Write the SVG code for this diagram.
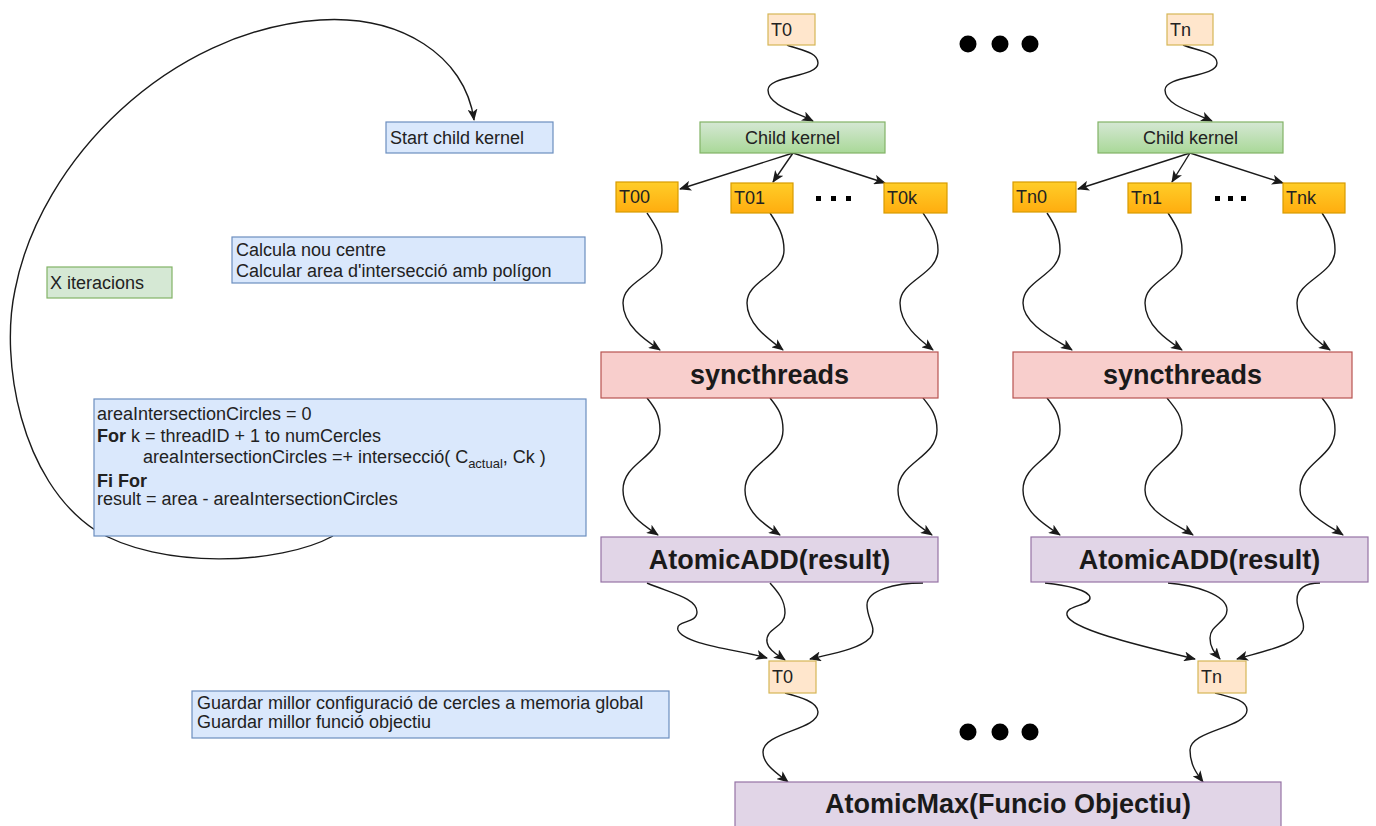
<svg xmlns="http://www.w3.org/2000/svg" width="1376" height="826" viewBox="0 0 1376 826">
  <style>
    .lbl { font-family: "Liberation Sans", Arial, sans-serif; font-size: 18px; fill: #222; }
    .big { font-family: "Liberation Sans", Arial, sans-serif; font-size: 27px; font-weight: bold; fill: #1a1a1a; text-anchor: middle; }
    .note { fill: #dae8fc; stroke: #6c8ebf; stroke-width: 1.2; }
    .green { fill: #d5e8d4; stroke: #82b366; stroke-width: 1.2; }
    .kernel { fill: url(#gGreen); stroke: #82b366; stroke-width: 1.2; }
    .thr { fill: url(#gOrange); stroke: #d79b00; stroke-width: 1.2; }
    .root { fill: #ffe6cc; stroke: #d6b656; stroke-width: 1.2; }
    .sync { fill: #f8cecc; stroke: #b85450; stroke-width: 1.2; }
    .atom { fill: #e1d5e7; stroke: #9673a6; stroke-width: 1.2; }
    .edge { fill: none; stroke: #1a1a1a; stroke-width: 1.4; marker-end: url(#arrow); }
    .dot { fill: #000; }
  </style>
  <defs>
    <linearGradient id="gGreen" x1="0" y1="0" x2="0" y2="1">
      <stop offset="0" stop-color="#d5e8d4"/>
      <stop offset="1" stop-color="#a9d898"/>
    </linearGradient>
    <linearGradient id="gOrange" x1="0" y1="0" x2="0" y2="1">
      <stop offset="0" stop-color="#ffcd28"/>
      <stop offset="1" stop-color="#ffad0f"/>
    </linearGradient>
    <marker id="arrow" viewBox="0 0 12 10" refX="11" refY="5" markerWidth="12" markerHeight="10" markerUnits="userSpaceOnUse" orient="auto">
      <path d="M0,0 L12,5 L0,10 L3,5 z" fill="#1a1a1a"/>
    </marker>
  </defs>

  <rect width="1376" height="826" fill="#ffffff"/>

  <!-- connectors -->
  <g id="connectors">
    <!-- iteration loop back to the child kernel launch -->
    <path class="edge" d="M333,536 C280,565 160,570 95,530 C20,480 0,360 15,290 C40,160 170,30 320,20 C400,15 465,55 474,120"/>

    <!-- parent threads to child kernels -->
    <path class="edge" d="M787,45 C800,50 818,52 818,63 C818,78 768,75 768,90 C768,105 795,112 813,121"/>
    <path class="edge" d="M1183,45 C1195,50 1217,52 1217,63 C1217,78 1165,75 1165,90 C1165,105 1192,112 1212,121"/>

    <!-- child kernels spawn threads -->
    <path class="edge" d="M793,153 L680,189"/>
    <path class="edge" d="M793,153 L773,182"/>
    <path class="edge" d="M793,153 L885,183"/>
    <path class="edge" d="M1190,153 L1078,189"/>
    <path class="edge" d="M1190,153 L1172,182"/>
    <path class="edge" d="M1190,153 L1283,183"/>

    <!-- threads to syncthreads -->
    <path class="edge" d="M647,213 C655,225 662,235 662,250 C662,275 623,280 623,303 C623,325 645,340 660,350"/>
    <path class="edge" d="M770,213 C778,225 784,235 784,250 C784,275 747,280 747,303 C747,325 770,340 783,350"/>
    <path class="edge" d="M923,213 C931,225 938,235 938,250 C938,275 900,280 900,303 C900,325 920,340 933,350"/>
    <path class="edge" d="M1047,213 C1055,225 1060,235 1060,250 C1060,275 1023,280 1023,303 C1023,325 1057,340 1072,350"/>
    <path class="edge" d="M1168,213 C1176,225 1182,235 1182,250 C1182,275 1145,280 1145,303 C1145,325 1167,340 1182,350"/>
    <path class="edge" d="M1322,213 C1330,225 1335,235 1335,250 C1335,275 1297,280 1297,303 C1297,325 1315,340 1330,350"/>

    <!-- syncthreads to AtomicADD -->
    <path class="edge" d="M647,398 C655,408 660,415 660,430 C660,458 623,462 623,490 C623,512 643,525 658,535"/>
    <path class="edge" d="M770,398 C778,408 783,415 783,430 C783,458 745,462 745,490 C745,512 765,525 780,535"/>
    <path class="edge" d="M923,398 C931,408 937,415 937,430 C937,458 898,462 898,490 C898,512 917,525 932,535"/>
    <path class="edge" d="M1047,398 C1055,408 1060,415 1060,430 C1060,458 1023,462 1023,490 C1023,512 1045,525 1060,535"/>
    <path class="edge" d="M1167,398 C1175,408 1182,415 1182,430 C1182,458 1145,462 1145,490 C1145,512 1178,525 1193,535"/>
    <path class="edge" d="M1322,398 C1330,408 1335,415 1335,430 C1335,458 1300,462 1300,490 C1300,512 1328,525 1343,535"/>

    <!-- AtomicADD to block leaders -->
    <path class="edge" d="M647,583 C670,593 697,598 697,612 C697,624 675,620 678,630 C684,645 740,650 767,658"/>
    <path class="edge" d="M770,583 C778,592 785,600 785,613 C785,628 765,628 767,642 C768,650 778,655 785,660"/>
    <path class="edge" d="M923,583 C895,583 867,590 867,605 C867,620 878,628 870,638 C858,650 830,654 810,659"/>
    <path class="edge" d="M1045,583 C1065,585 1090,590 1090,598 C1090,606 1065,605 1067,615 C1070,630 1150,648 1195,659"/>
    <path class="edge" d="M1168,583 C1195,585 1227,595 1227,610 C1227,622 1210,625 1210,638 C1210,648 1215,653 1220,659"/>
    <path class="edge" d="M1320,583 C1305,583 1297,588 1297,600 C1297,612 1306,620 1303,630 C1298,645 1260,652 1237,659"/>

    <!-- block leaders to AtomicMax -->
    <path class="edge" d="M785,693 C800,697 818,702 818,712 C818,730 763,732 763,752 C763,765 778,774 788,782"/>
    <path class="edge" d="M1215,693 C1230,697 1247,700 1247,710 C1247,728 1190,730 1190,750 C1190,765 1197,774 1203,782"/>
  </g>

  <!-- annotations -->
  <g id="start-child-kernel">
    <rect class="note" x="386" y="122" width="167" height="31"/>
    <text class="lbl" x="390" y="144">Start child kernel</text>
  </g>
  <g id="x-iteracions">
    <rect class="green" x="47" y="267" width="125" height="31"/>
    <text class="lbl" x="50" y="289">X iteracions</text>
  </g>
  <g id="calcula">
    <rect class="note" x="232" y="237" width="353" height="46"/>
    <text class="lbl" x="236" y="256">Calcula nou centre</text>
    <text class="lbl" x="236" y="277">Calcular area d'intersecció amb polígon</text>
  </g>
  <g id="codi-interseccio">
    <rect class="note" x="94" y="399" width="492" height="137"/>
    <text class="lbl" x="97" y="420">areaIntersectionCircles = 0</text>
    <text class="lbl" x="97" y="442"><tspan font-weight="bold">For</tspan> k = threadID + 1 to numCercles</text>
    <text class="lbl" x="143" y="463">areaIntersectionCircles =+ intersecció( C<tspan font-size="13" dy="5">actual</tspan><tspan dy="-5">, Ck )</tspan></text>
    <text class="lbl" x="97" y="487" font-weight="bold">Fi For</text>
    <text class="lbl" x="97" y="505">result = area - areaIntersectionCircles</text>
  </g>
  <g id="guardar">
    <rect class="note" x="192" y="691" width="477" height="47"/>
    <text class="lbl" x="197" y="709">Guardar millor configuració de cercles a memoria global</text>
    <text class="lbl" x="197" y="728">Guardar millor funció objectiu</text>
  </g>

  <!-- block 0 -->
  <g id="T0-top">
    <rect class="root" x="768" y="14" width="47" height="31"/>
    <text class="lbl" x="771" y="36">T0</text>
  </g>
  <g id="child-kernel-0">
    <rect class="kernel" x="700" y="122" width="185" height="31"/>
    <text class="lbl" x="792.5" y="144" text-anchor="middle" fill="#333">Child kernel</text>
  </g>
  <g id="T00">
    <rect class="thr" x="616" y="182" width="62" height="30"/>
    <text class="lbl" x="619" y="203">T00</text>
  </g>
  <g id="T01">
    <rect class="thr" x="731" y="183" width="62" height="30"/>
    <text class="lbl" x="734" y="204">T01</text>
  </g>
  <g id="T0k">
    <rect class="thr" x="884" y="183" width="63" height="30"/>
    <text class="lbl" x="887" y="204">T0k</text>
  </g>
  <g id="dots-0">
    <rect class="dot" x="816" y="196" width="5" height="5"/>
    <rect class="dot" x="831" y="196" width="5" height="5"/>
    <rect class="dot" x="846" y="196" width="5" height="5"/>
  </g>
  <g id="sync-0">
    <rect class="sync" x="601" y="352" width="337" height="46"/>
    <text class="big" x="769.5" y="384">syncthreads</text>
  </g>
  <g id="atomicadd-0">
    <rect class="atom" x="601" y="537" width="337" height="45"/>
    <text class="big" x="769.5" y="569">AtomicADD(result)</text>
  </g>
  <g id="T0-bottom">
    <rect class="root" x="769" y="661" width="47" height="32"/>
    <text class="lbl" x="772" y="683">T0</text>
  </g>

  <!-- block n -->
  <g id="Tn-top">
    <rect class="root" x="1167" y="14" width="46" height="31"/>
    <text class="lbl" x="1170" y="36">Tn</text>
  </g>
  <g id="child-kernel-n">
    <rect class="kernel" x="1098" y="122" width="185" height="31"/>
    <text class="lbl" x="1190.5" y="144" text-anchor="middle" fill="#333">Child kernel</text>
  </g>
  <g id="Tn0">
    <rect class="thr" x="1013" y="182" width="63" height="30"/>
    <text class="lbl" x="1016" y="203">Tn0</text>
  </g>
  <g id="Tn1">
    <rect class="thr" x="1128" y="183" width="63" height="30"/>
    <text class="lbl" x="1131" y="204">Tn1</text>
  </g>
  <g id="Tnk">
    <rect class="thr" x="1283" y="183" width="62" height="30"/>
    <text class="lbl" x="1286" y="204">Tnk</text>
  </g>
  <g id="dots-n">
    <rect class="dot" x="1215" y="196" width="5" height="5"/>
    <rect class="dot" x="1228" y="196" width="5" height="5"/>
    <rect class="dot" x="1241" y="196" width="5" height="5"/>
  </g>
  <g id="sync-n">
    <rect class="sync" x="1013" y="352" width="339" height="46"/>
    <text class="big" x="1182.5" y="384">syncthreads</text>
  </g>
  <g id="atomicadd-n">
    <rect class="atom" x="1031" y="537" width="337" height="45"/>
    <text class="big" x="1199.5" y="569">AtomicADD(result)</text>
  </g>
  <g id="Tn-bottom">
    <rect class="root" x="1198" y="661" width="48" height="32"/>
    <text class="lbl" x="1201" y="683">Tn</text>
  </g>

  <!-- ellipsis between blocks -->
  <g id="ellipsis-top">
    <circle class="dot" cx="968" cy="44" r="8.5"/>
    <circle class="dot" cx="1000" cy="44" r="8.5"/>
    <circle class="dot" cx="1030" cy="44" r="8.5"/>
  </g>
  <g id="ellipsis-bottom">
    <circle class="dot" cx="968" cy="732" r="8.5"/>
    <circle class="dot" cx="1000" cy="732" r="8.5"/>
    <circle class="dot" cx="1030" cy="732" r="8.5"/>
  </g>

  <g id="atomicmax">
    <rect class="atom" x="735" y="782" width="546" height="60"/>
    <text class="big" x="1008" y="813">AtomicMax(Funcio Objectiu)</text>
  </g>
</svg>
